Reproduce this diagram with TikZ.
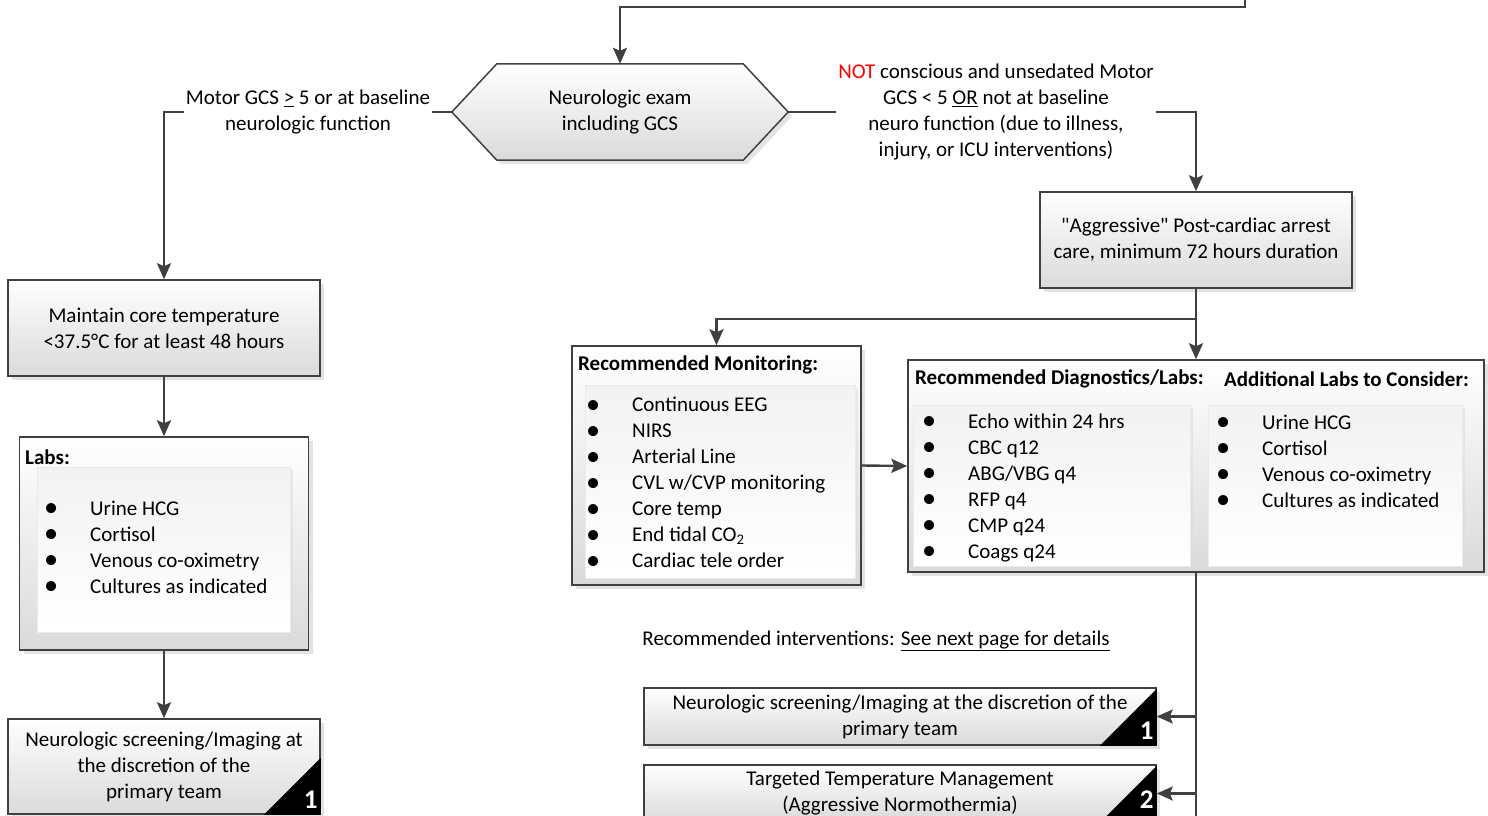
\documentclass[tikz,border=0pt]{standalone}
\usepackage{fontspec}
\newfontfamily\flowfont{Carlito}
\usetikzlibrary{arrows.meta, shadows, backgrounds}

\definecolor{lineclr}{HTML}{404040}
\definecolor{boxbot}{HTML}{DADADA}

\newcommand{\itm}[1]{\makebox[46pt][l]{\raisebox{-0.15ex}{\scalebox{1.35}{\textbullet}}}#1}

\tikzset{
  flowbox/.style={draw=lineclr, line width=1.5pt, top color=white, bottom color=boxbot,
    drop shadow={shadow xshift=4pt, shadow yshift=-4pt, fill=black!22},
    align=center, inner sep=0pt},
  hexfill/.style={draw=lineclr, line width=1.5pt, top color=white, bottom color=boxbot,
    drop shadow={shadow xshift=4pt, shadow yshift=-4pt, fill=black!22}},
  panel/.style={draw=black!8, line width=0.6pt, top color=black!5, bottom color=white,
    drop shadow={shadow xshift=3pt, shadow yshift=-3pt, fill=black!14}, inner sep=0pt},
  link/.style={draw=lineclr, line width=2.4pt},
  arr/.style={link, -{Stealth[length=16pt, width=14pt, inset=3pt]}},
  cond/.style={fill=white, align=center, inner sep=2pt},
  heading/.style={anchor=west, inner sep=0pt, font=\flowfont\bfseries\fontsize{21}{26}\selectfont},
  itemlist/.style={anchor=west, align=left, inner sep=0pt},
  tagnum/.style={inner sep=0pt, text=white, font=\flowfont\bfseries\fontsize{27}{27}\selectfont},
}

\begin{document}
\begin{tikzpicture}[x=1pt, y=-1pt, font=\flowfont\fontsize{21}{26}\selectfont]
  \useasboundingbox (0,0) rectangle (1488,816);

  % coming in from the top
  \coordinate (entry) at (1245,0);
  \coordinate (bend) at (1245,7);

  \node (exam) [minimum width=336, minimum height=96, align=center, inner sep=0pt] at (620,112)
    {Neurologic exam\\including GCS};
  \begin{scope}[on background layer]
    \path [hexfill] (exam.west) -- ([xshift=45pt]exam.north west) -- ([xshift=-45pt]exam.north east)
      -- (exam.east) -- ([xshift=-45pt]exam.south east) -- ([xshift=45pt]exam.south west) -- cycle;
  \end{scope}
  \draw [arr] (entry) -- (bend) -| (exam.north);

  % left branch
  \node (cool) [flowbox, minimum width=312, minimum height=96] at (164,328)
    {Maintain core temperature\\<37.5°C for at least 48 hours};
  \draw [arr] (exam.west) -| (cool.north);
  \node (yes) [cond] at (308,112) {Motor GCS \underline{>} 5 or at baseline\\neurologic function};

  \node (labs) [flowbox, minimum width=289, minimum height=213] at (164,543.5) {};
  \node (labpanel) [panel, anchor=north west, minimum width=253, minimum height=165] at (37,467) {};
  \node (labtitle) [heading] at (25,457) {Labs:};
  \node (lablist) [itemlist] at (44,548)
    {\itm{Urine HCG}\\\itm{Cortisol}\\\itm{Venous co-oximetry}\\\itm{Cultures as indicated}};
  \draw [arr] (cool.south) -- (labs.north);

  \node (scr) [flowbox, minimum width=312, minimum height=95] at (164,766.5)
    {Neurologic screening/Imaging at\\the discretion of the\\primary team};
  \fill (scr.south east) -- ++(-57,0) -- ++(57,-57) -- cycle;
  \node (tagA) [tagnum, anchor=south east] at ([xshift=-3pt, yshift=6pt]scr.south east) {1};
  \draw [arr] (labs.south) -- (scr.north);

  % right branch
  \node (care) [flowbox, minimum width=312, minimum height=96] at (1196,240)
    {{\flowfont"}Aggressive{\flowfont"} Post-cardiac arrest\\care, minimum 72 hours duration};
  \draw [arr] (exam.east) -| (care.north);
  \node (no) [cond] at (996,112)
    {\textcolor{red}{NOT} conscious and unsedated Motor\\GCS < 5 \underline{OR} not at baseline\\neuro function (due to illness,\\injury, or ICU interventions)};

  \node (mon) [flowbox, minimum width=289, minimum height=239] at (716.5,465.5) {};
  \node (monpanel) [panel, anchor=north west, minimum width=270, minimum height=193] at (585,385) {};
  \node (montitle) [heading] at (578,365) {Recommended Monitoring:};
  \node (monlist) [itemlist] at (586,483)
    {\itm{Continuous EEG}\\\itm{NIRS}\\\itm{Arterial Line}\\\itm{CVL w/CVP monitoring}\\
     \itm{Core temp}\\\itm{End tidal CO\textsubscript{2}}\\\itm{Cardiac tele order}};

  \node (diag) [flowbox, minimum width=576, minimum height=212] at (1196,466) {};
  \node (dxpanel) [panel, anchor=north west, minimum width=277, minimum height=161] at (913,405) {};
  \node (addpanel) [panel, anchor=north west, minimum width=254, minimum height=161] at (1208,405) {};
  \node (dxtitle) [heading] at (915,379) {Recommended Diagnostics/Labs:};
  \node (addtitle) [heading] at (1224,379) {Additional Labs to Consider:};
  \node (dxlist) [itemlist] at (922,488)
    {\itm{Echo within 24 hrs}\\\itm{CBC q12}\\\itm{ABG/VBG q4}\\\itm{RFP q4}\\\itm{CMP q24}\\\itm{Coags q24}};
  \node (addlist) [itemlist] at (1216,462)
    {\itm{Urine HCG}\\\itm{Cortisol}\\\itm{Venous co-oximetry}\\\itm{Cultures as indicated}};

  \coordinate (split) at (1196,319);
  \draw [arr] (care.south) -- (diag.north);
  \draw [arr] (split) -| (mon.north);
  \draw [arr] (mon.east) -- (diag.west);

  \node (intv) at (876,641) {Recommended interventions: \underline{See next page for details}};

  \node (int1) [flowbox, minimum width=512, minimum height=57] at (900,716.5)
    {Neurologic screening/Imaging at the discretion of the\\primary team};
  \fill (int1.south east) -- ++(-57,0) -- ++(57,-57) -- cycle;
  \node (tagB) [tagnum, anchor=south east] at ([xshift=-3pt, yshift=6pt]int1.south east) {1};

  \node (int2) [flowbox, minimum width=512, minimum height=57] at (900,793.5)
    {Targeted Temperature Management\\(Aggressive Normothermia)};
  \fill (int2.south east) -- ++(-57,0) -- ++(57,-57) -- cycle;
  \node (tagC) [tagnum, anchor=north east] at ([xshift=-3pt, yshift=-26pt]int2.north east) {2};

  \coordinate (trunkend) at (1196,816);
  \draw [link] (diag.south) -- (trunkend);
  \draw [arr] (int1.east -| trunkend) -- (int1.east);
  \draw [arr] (int2.east -| trunkend) -- (int2.east);
\end{tikzpicture}
\end{document}
